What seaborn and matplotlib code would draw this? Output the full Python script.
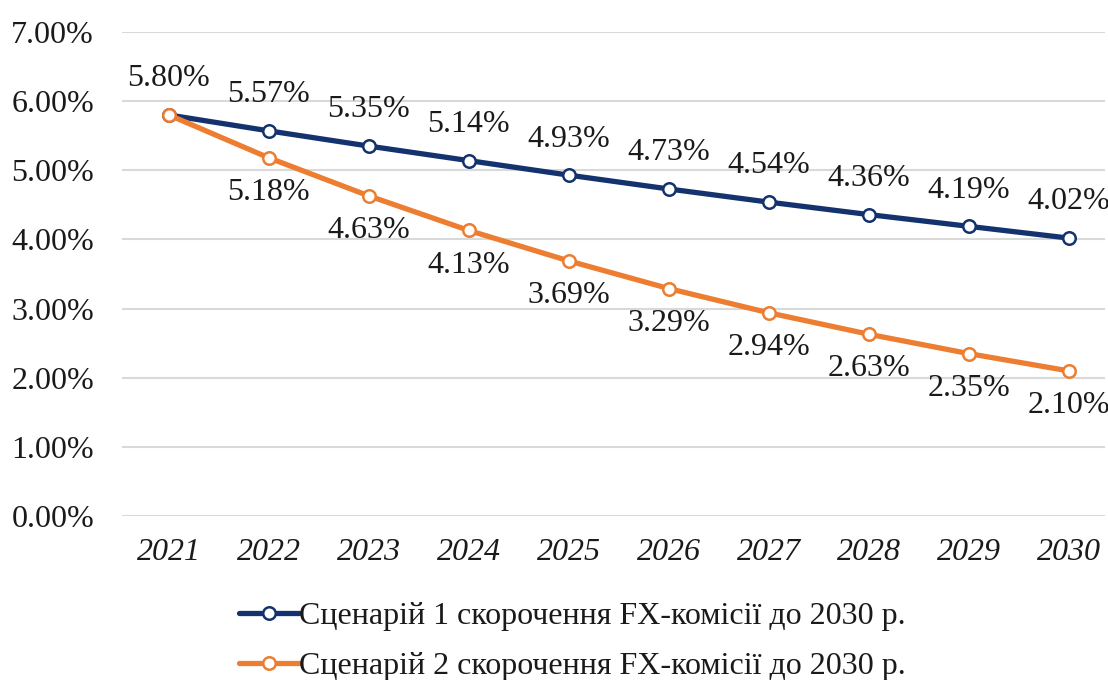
import matplotlib
matplotlib.use("Agg")
import matplotlib.pyplot as plt
import seaborn as sns
import pandas as pd
from matplotlib.ticker import FuncFormatter

years = ["2021", "2022", "2023", "2024", "2025", "2026", "2027", "2028", "2029", "2030"]
scenario1 = [5.80, 5.57, 5.35, 5.14, 4.93, 4.73, 4.54, 4.36, 4.19, 4.02]
scenario2 = [5.80, 5.18, 4.63, 4.13, 3.69, 3.29, 2.94, 2.63, 2.35, 2.10]
name1 = "Сценарій 1 скорочення FX-комісії до 2030 р."
name2 = "Сценарій 2 скорочення FX-комісії до 2030 р."
yticks = [0, 1, 2, 3, 4, 5, 6, 7]

sns.set_theme(style="white")
plt.rcParams['font.family'] = ['Liberation Serif', 'DejaVu Serif']

fig = plt.figure(figsize=(11.08, 6.8), dpi=100)
ax = fig.add_axes([0.110, 0.241, 0.887, 0.712])

idx = list(range(len(years)))
df1 = pd.DataFrame({"x": idx, "y": scenario1})
df2 = pd.DataFrame({"x": idx, "y": scenario2})

c1 = "#14336E"
c2 = "#ED7D31"
fs = 23

for df, col, name in [(df1, c1, name1), (df2, c2, name2)]:
    sns.lineplot(data=df, x="x", y="y", ax=ax, color=col, linewidth=3.8,
                 marker="o", markersize=9, markerfacecolor="white",
                 markeredgecolor=col, markeredgewidth=1.8, label=name, zorder=3)

for i, v in enumerate(scenario1):
    ax.annotate(f"{v:.2f}%", (i, v), xytext=(0, 26), textcoords="offset points",
                ha="center", va="center", fontsize=fs, color="#1a1a1a")
for i, v in enumerate(scenario2):
    if i == 0:
        continue
    ax.annotate(f"{v:.2f}%", (i, v), xytext=(0, -25), textcoords="offset points",
                ha="center", va="center", fontsize=fs, color="#1a1a1a")

ax.set_xlim(-0.47, 9.36)
ax.set_ylim(0, 7)
ax.set_yticks(yticks)
ax.yaxis.set_major_formatter(FuncFormatter(lambda v, p: f"{v:.2f}%"))
ax.set_xticks(idx)
ax.set_xticklabels(years, fontstyle="italic")
ax.tick_params(axis="y", labelsize=fs, pad=20, length=0, colors="#1a1a1a")
ax.tick_params(axis="x", labelsize=fs, pad=16, length=0, colors="#1a1a1a")
ax.grid(axis="y", color="#d9d9d9", linewidth=1.5)
ax.set_axisbelow(True)
for s in ax.spines.values():
    s.set_visible(False)
ax.set_xlabel("")
ax.set_ylabel("")

ax.get_legend().remove()
h, l = ax.get_legend_handles_labels()
fig.legend(h, l, loc="center", bbox_to_anchor=(0.5167, 0.057), frameon=False,
           fontsize=fs, handlelength=1.9, handletextpad=0.0, labelspacing=0.65,
           labelcolor="#1a1a1a")

fig.savefig("out.png", dpi=100)
